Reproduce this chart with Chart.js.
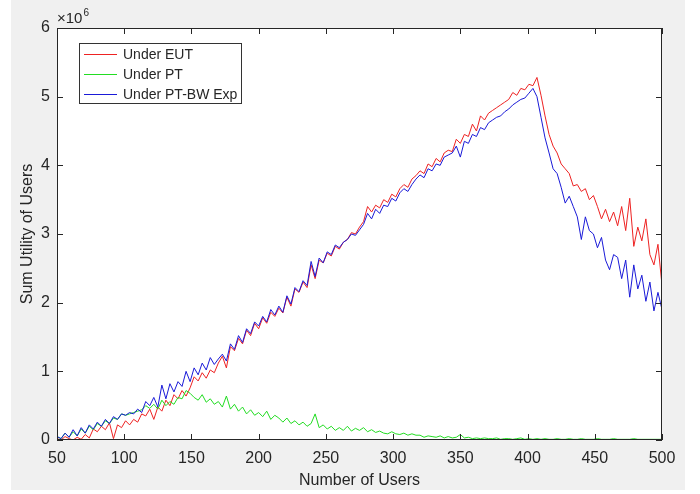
<script src="https://cdn.jsdelivr.net/npm/chart.js"></script>

<style>
  body { margin: 0; background: #fff; }
  canvas { display: block; }
</style>

<canvas id="chart" width="700" height="494"></canvas>

<script>
// number of users (x) and sum utility in units of 1e6
const users = [
  50,53,56,59,62,65,68,71,74,77,
  80,83,86,89,92,95,98,101,104,107,
  110,113,116,119,122,125,128,131,134,137,
  140,143,146,149,152,155,158,161,164,167,
  170,173,176,179,182,185,188,191,194,197,
  200,203,206,209,212,215,218,221,224,227,
  230,233,236,239,242,245,248,251,254,257,
  260,263,266,269,272,275,278,281,284,287,
  290,293,296,299,302,305,308,311,314,317,
  320,323,326,329,332,335,338,341,344,347,
  350,353,356,359,362,365,368,371,374,377,
  380,383,386,389,392,395,398,401,404,407,
  410,413,416,419,422,425,428,431,434,437,
  440,443,446,449,452,455,458,461,464,467,
  470,473,476,479,482,485,488,491,494,497,
  500
];

const eut = [
  0.02,0.00,0.05,0.02,0.00,0.04,0.01,0.08,0.03,0.16,
  0.12,0.20,0.15,0.25,0.02,0.22,0.18,0.28,0.22,0.30,
  0.26,0.38,0.35,0.45,0.30,0.48,0.42,0.58,0.50,0.66,
  0.60,0.72,0.64,0.76,0.92,0.86,0.98,0.90,1.02,0.98,
  1.12,1.22,1.05,1.36,1.30,1.48,1.40,1.60,1.52,1.70,
  1.62,1.78,1.70,1.86,1.80,1.92,1.85,2.08,1.95,2.20,
  2.15,2.30,2.22,2.55,2.35,2.62,2.58,2.72,2.68,2.82,
  2.78,2.88,2.92,3.02,3.00,3.10,3.18,3.40,3.32,3.42,
  3.38,3.50,3.46,3.58,3.54,3.66,3.72,3.68,3.80,3.85,
  3.92,3.88,4.02,3.98,4.10,4.05,4.18,4.22,4.20,4.38,
  4.32,4.45,4.42,4.60,4.50,4.72,4.66,4.76,4.80,4.84,
  4.88,4.92,4.96,5.06,5.02,5.12,5.10,5.18,5.16,5.28,
  5.02,4.72,4.45,4.28,4.18,4.02,3.95,3.88,3.70,3.72,
  3.62,3.66,3.50,3.56,3.40,3.22,3.36,3.18,3.32,3.12,
  3.40,3.05,3.52,2.82,3.10,2.90,3.22,2.70,2.55,2.85,
  2.25
];

const pt = [
  0.05,0.02,0.10,0.04,0.12,0.06,0.16,0.10,0.20,0.15,
  0.24,0.20,0.28,0.24,0.32,0.30,0.38,0.36,0.38,0.40,
  0.42,0.44,0.50,0.46,0.52,0.45,0.58,0.50,0.56,0.52,
  0.62,0.60,0.72,0.68,0.62,0.58,0.66,0.55,0.60,0.52,
  0.56,0.48,0.64,0.45,0.52,0.42,0.48,0.38,0.44,0.36,
  0.40,0.34,0.42,0.30,0.36,0.32,0.26,0.32,0.24,0.28,
  0.22,0.26,0.20,0.24,0.38,0.18,0.22,0.16,0.20,0.14,
  0.18,0.14,0.20,0.13,0.17,0.14,0.18,0.12,0.15,0.11,
  0.13,0.10,0.09,0.12,0.09,0.08,0.10,0.07,0.09,0.07,
  0.07,0.04,0.06,0.05,0.04,0.06,0.03,0.05,0.03,0.04,
  0.08,0.03,0.04,0.02,0.03,0.02,0.03,0.02,0.02,0.03,
  0.01,0.02,0.02,0.01,0.02,0.03,0.01,0.02,0.01,0.02,
  0.01,0.02,0.01,0.01,0.02,0.01,0.01,0.02,0.01,0.01,
  0.02,0.01,0.01,0.01,0.02,0.01,0.01,0.01,0.02,0.01,
  0.01,0.01,0.01,0.02,0.01,0.01,0.01,0.01,0.01,0.01,
  0.01
];

const ptbw = [
  0.05,0.02,0.10,0.04,0.15,0.06,0.18,0.10,0.22,0.16,
  0.26,0.20,0.30,0.24,0.34,0.30,0.38,0.36,0.40,0.38,
  0.45,0.40,0.56,0.50,0.62,0.48,0.80,0.60,0.82,0.70,
  0.85,0.78,1.00,0.85,1.05,0.95,1.12,1.02,1.20,1.10,
  1.18,1.25,1.15,1.40,1.32,1.52,1.42,1.62,1.55,1.72,
  1.66,1.80,1.72,1.90,1.82,1.95,1.86,2.10,1.98,2.22,
  2.16,2.32,2.25,2.60,2.38,2.65,2.58,2.74,2.70,2.84,
  2.80,2.88,2.92,3.00,2.98,3.06,3.14,3.30,3.22,3.36,
  3.30,3.42,3.40,3.52,3.48,3.60,3.66,3.62,3.72,3.80,
  3.86,3.82,3.95,3.92,4.02,4.00,4.12,4.15,4.18,4.28,
  4.12,4.35,4.32,4.45,4.42,4.55,4.52,4.62,4.66,4.70,
  4.72,4.78,4.82,4.88,4.92,4.96,4.98,5.05,5.12,5.00,
  4.70,4.40,4.18,3.95,3.88,3.68,3.45,3.55,3.40,3.25,
  2.92,3.25,3.05,3.00,2.80,2.95,2.62,2.48,2.70,2.66,
  2.35,2.62,2.08,2.55,2.20,2.40,2.02,2.30,1.88,2.15,
  1.90
];

const xTicks = [50, 100, 150, 200, 250, 300, 350, 400, 450, 500];
const yTicks = [0, 1, 2, 3, 4, 5, 6];

const FONT = "'Liberation Sans', Arial, Helvetica, sans-serif";
const INK = '#262626';

function pairs(ys) {
  return users.map((u, i) => ({ x: u, y: ys[i] }));
}

// matlab-like frame: grey figure, white axes, inward ticks, box legend
const frame = {
  id: 'frame',
  beforeDraw(chart) {
    const { ctx, chartArea: a } = chart;
    ctx.save();
    ctx.fillStyle = '#fff';
    ctx.fillRect(0, 0, chart.width, chart.height);
    ctx.fillStyle = '#f0f0f0';
    ctx.fillRect(11, 0, 674, 490);
    ctx.fillStyle = '#fff';
    ctx.fillRect(a.left, a.top, a.right - a.left, a.bottom - a.top);
    ctx.restore();
  },
  afterDraw(chart) {
    const { ctx, chartArea: a, scales } = chart;
    ctx.save();
    ctx.strokeStyle = INK;
    ctx.lineWidth = 1;
    ctx.strokeRect(a.left + 0.5, a.top + 0.5, a.right - a.left - 1, a.bottom - a.top - 1);

    ctx.beginPath();
    xTicks.forEach(v => {
      const px = Math.round(scales.x.getPixelForValue(v)) + 0.5;
      ctx.moveTo(px, a.bottom); ctx.lineTo(px, a.bottom - 6);
      ctx.moveTo(px, a.top); ctx.lineTo(px, a.top + 6);
    });
    yTicks.forEach(v => {
      const py = Math.round(scales.y.getPixelForValue(v)) + 0.5;
      ctx.moveTo(a.left, py); ctx.lineTo(a.left + 6, py);
      ctx.moveTo(a.right, py); ctx.lineTo(a.right - 6, py);
    });
    ctx.stroke();

    // exponent label
    ctx.fillStyle = INK;
    ctx.textBaseline = 'alphabetic';
    ctx.font = '15px ' + FONT;
    ctx.fillText('\u00d710', 57, 23);
    const w = ctx.measureText('\u00d710').width;
    ctx.font = '10px ' + FONT;
    ctx.fillText('6', 57 + w + 1, 16);

    // legend
    const lx = 79, ly = 43, lw = 162, lh = 60;
    ctx.fillStyle = '#fff';
    ctx.fillRect(lx, ly, lw, lh);
    ctx.strokeStyle = '#333';
    ctx.strokeRect(lx + 0.5, ly + 0.5, lw, lh);
    ctx.font = '14px ' + FONT;
    ctx.textBaseline = 'middle';
    chart.data.datasets.forEach((ds, i) => {
      const y = ly + 11 + i * 20;
      ctx.strokeStyle = ds.borderColor;
      ctx.beginPath();
      ctx.moveTo(84, y + 0.5); ctx.lineTo(117, y + 0.5);
      ctx.stroke();
      ctx.fillStyle = INK;
      ctx.fillText(ds.label, 123, y + 1);
    });
    ctx.restore();
  }
};

new Chart(document.getElementById('chart'), {
  type: 'line',
  data: {
    datasets: [
      { label: 'Under EUT', data: pairs(eut), borderColor: '#ee2222', order: 2 },
      { label: 'Under PT', data: pairs(pt), borderColor: '#22dd22', order: 1 },
      { label: 'Under PT-BW Exp', data: pairs(ptbw), borderColor: '#1a1ad8', order: 0 }
    ]
  },
  options: {
    responsive: false,
    animation: false,
    devicePixelRatio: 1,
    layout: { padding: { left: 0, top: 28, right: 38, bottom: 0 } },
    elements: {
      line: { borderWidth: 1, tension: 0 },
      point: { radius: 0 }
    },
    plugins: {
      legend: { display: false },
      tooltip: { enabled: false }
    },
    scales: {
      x: {
        type: 'linear',
        min: 50,
        max: 500,
        afterFit: s => { s.height = 54; },
        afterBuildTicks: s => { s.ticks = xTicks.map(v => ({ value: v })); },
        grid: { display: false, drawTicks: false },
        border: { display: false },
        ticks: { color: INK, padding: 9, font: { family: FONT, size: 16 }, maxRotation: 0 },
        title: {
          display: true, text: 'Number of Users', color: INK,
          font: { family: FONT, size: 16 }, padding: { top: 0, bottom: 4 }
        }
      },
      y: {
        min: 0,
        max: 6,
        afterFit: s => { s.width = 57; },
        afterBuildTicks: s => { s.ticks = yTicks.map(v => ({ value: v })); },
        grid: { display: false, drawTicks: false },
        border: { display: false },
        ticks: { color: INK, padding: 7, font: { family: FONT, size: 16 } },
        title: {
          display: true, text: 'Sum Utility of Users', color: INK,
          font: { family: FONT, size: 16 }, padding: { top: 18, bottom: 0 }
        }
      }
    }
  },
  plugins: [frame]
});
</script>
